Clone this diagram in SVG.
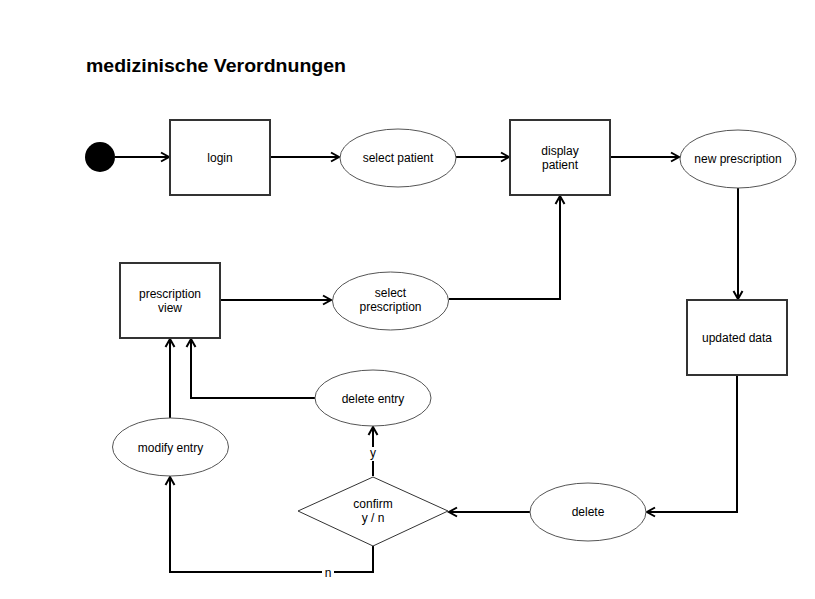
<svg xmlns="http://www.w3.org/2000/svg" width="815" height="599" viewBox="0 0 815 599">
<defs>
<style>
.box{fill:#fff;stroke:#333;stroke-width:2}
.ell{fill:#fff;stroke:#555;stroke-width:1}
.dia{fill:#fff;stroke:#333;stroke-width:1}
.lbl{font-family:"Liberation Sans",Arial,sans-serif;font-size:12px;fill:#000;text-anchor:middle}
.edge{fill:none;stroke:#000;stroke-width:2;marker-end:url(#arr)}
.title{font-family:"Liberation Sans",Arial,sans-serif;font-size:18px;font-weight:bold;fill:#000}
</style>
<marker id="arr" markerUnits="userSpaceOnUse" markerWidth="12" markerHeight="12" refX="9" refY="5" orient="auto" viewBox="0 0 12 10">
<path d="M1,0.5 L9,5 L1,9.5" fill="none" stroke="#000" stroke-width="2"/>
</marker>
</defs>
<rect width="815" height="599" fill="#fff"/>
<text class="title" x="86" y="72" textLength="260" lengthAdjust="spacingAndGlyphs">medizinische Verordnungen</text>

<g id="connectors">
<path class="edge" d="M115,157 L169,157"/>
<path class="edge" d="M270,157 L339,157"/>
<path class="edge" d="M456,157 L509,157"/>
<path class="edge" d="M610,157 L679,157"/>
<path class="edge" d="M738,188 L738,299"/>
<path class="edge" d="M737,376 L737,512 L647,512"/>
<path class="edge" d="M530,512 L449,512"/>
<path class="edge" d="M373,476 L373,427"/>
<path class="edge" d="M373,546 L373,572 L170,572 L170,477"/>
<path class="edge" d="M170,418 L170,339"/>
<path class="edge" d="M315,398 L191,398 L191,339"/>
<path class="edge" d="M220,300 L331,300"/>
<path class="edge" d="M449,299 L560,299 L560,196"/>
<rect x="367" y="447" width="12" height="14" fill="#fff"/>
<text class="lbl" x="373" y="457">y</text>
<rect x="322" y="566" width="12" height="13" fill="#fff"/>
<text class="lbl" x="328" y="577">n</text>
</g>

<g id="start"><circle cx="100" cy="157" r="15" fill="#000"/></g>
<g id="login"><rect class="box" x="170" y="120" width="100" height="75"/><text class="lbl" x="220" y="162">login</text></g>
<g id="select-patient"><ellipse class="ell" cx="398" cy="158" rx="58" ry="29"/><text class="lbl" x="398" y="162">select patient</text></g>
<g id="display-patient"><rect class="box" x="510" y="120" width="100" height="75"/><text class="lbl" x="560" y="155">display</text><text class="lbl" x="560" y="169">patient</text></g>
<g id="new-prescription"><ellipse class="ell" cx="738" cy="159" rx="58" ry="29"/><text class="lbl" x="738" y="163">new prescription</text></g>
<g id="updated-data"><rect class="box" x="687" y="300" width="100" height="75"/><text class="lbl" x="737" y="342">updated data</text></g>
<g id="prescription-view"><rect class="box" x="120" y="263" width="100" height="75"/><text class="lbl" x="170" y="298">prescription</text><text class="lbl" x="170" y="312">view</text></g>
<g id="select-prescription"><ellipse class="ell" cx="390.5" cy="301" rx="58" ry="29"/><text class="lbl" x="390.5" y="297">select</text><text class="lbl" x="390.5" y="311">prescription</text></g>
<g id="delete-entry"><ellipse class="ell" cx="373" cy="398" rx="58" ry="28"/><text class="lbl" x="373" y="403">delete entry</text></g>
<g id="modify-entry"><ellipse class="ell" cx="170.5" cy="447" rx="58" ry="29"/><text class="lbl" x="170.5" y="452">modify entry</text></g>
<g id="confirm"><polygon class="dia" points="373,477 448,511 373,546 298,511"/><text class="lbl" x="373" y="508">confirm</text><text class="lbl" x="373" y="522">y / n</text></g>
<g id="delete"><ellipse class="ell" cx="588" cy="512" rx="58" ry="29"/><text class="lbl" x="588" y="516">delete</text></g>
</svg>
